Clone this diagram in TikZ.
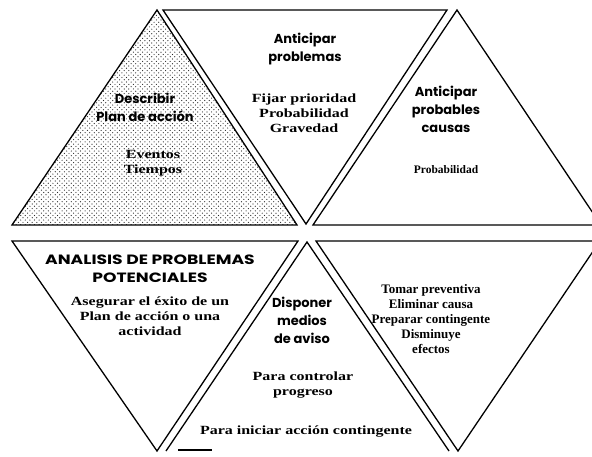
\documentclass[tikz,border=0pt]{standalone}
\usepackage{fontspec}
\setmainfont{Liberation Serif}
\setsansfont{Poppins}
\newfontfamily\bodyfont{Liberation Serif}[FakeStretch=1.28]
\newfontfamily\widehead{Poppins}[FakeStretch=1.27]
\usetikzlibrary{patterns.meta}
\tikzdeclarepattern{
  name=stipple,
  type=uncolored,
  bounding box={(-1pt,-1pt) and (4pt,4pt)},
  tile size={(4.6pt,4.6pt)},
  code={
    \fill (0pt,0pt) circle [radius=0.6pt];
    \fill (2.3pt,2.3pt) circle [radius=0.6pt];
  }
}
\tikzset{
  tri/.style={draw=black, line width=1.3pt, line join=miter},
  shaded/.style={tri, pattern=stipple, pattern color=black!85},
  head/.style={align=center, inner sep=0pt,
    font=\sffamily\bfseries\fontsize{13}{18}\selectfont},
  body/.style={align=center, inner sep=0pt,
    font=\bodyfont\bfseries\fontsize{12.5}{15}\selectfont},
  narrowbody/.style={body, font=\rmfamily\bfseries\fontsize{13}{15}\selectfont}
}

\begin{document}
\begin{tikzpicture}[x=1pt,y=-1pt]
  \useasboundingbox (0,0) rectangle (592,457);
  \clip (0,0) rectangle (592,457);
  % upper row
  \coordinate (a1) at (157,10);  \coordinate (b1) at (12,225);  \coordinate (c1) at (297,225);
  \coordinate (a2) at (163,10);  \coordinate (b2) at (447,10);  \coordinate (c2) at (306,224);
  \coordinate (a3) at (457,10);  \coordinate (b3) at (313,225); \coordinate (c3) at (601,225);
  % lower row
  \coordinate (a4) at (12,241);  \coordinate (b4) at (298,241); \coordinate (c4) at (157,451);
  \coordinate (a5) at (307,242); \coordinate (b5) at (166,451); \coordinate (c5) at (449,451);
  \coordinate (a6) at (316,241); \coordinate (b6) at (600,241); \coordinate (c6) at (458,451);
  \coordinate (f1) at (178,450); \coordinate (f2) at (212,450);

  \draw[shaded] (a1) -- (b1) -- (c1) -- cycle;
  \draw[tri] (a2) -- (b2) -- (c2) -- cycle;
  \draw[tri] (a3) -- (b3) -- (c3) -- cycle;
  \draw[tri] (a4) -- (b4) -- (c4) -- cycle;
  \draw[tri] (b5) -- (a5) -- (c5);
  \draw[tri] (f1) -- (f2);
  \draw[tri] (a6) -- (b6) -- (c6) -- cycle;

  % texts
  \node[head] (describir) at (145,107) {Describir\\Plan de acción};
  \node[body] (eventos) at (153,163) {Eventos\\Tiempos};
  \node[head] (antprob) at (305,49) {Anticipar\\problemas};
  \node[body] (fijar) at (304,113) {Fijar prioridad\\Probabilidad\\Gravedad};
  \node[head] (antcausas) at (446,109) {Anticipar\\probables\\causas};
  \node[narrowbody, font=\rmfamily\bfseries\fontsize{11.5}{15}\selectfont] (probab) at (446,170) {Probabilidad};
  \node[head, font=\widehead\bfseries\fontsize{13.5}{18}\selectfont] (analisis) at (150,269) {ANALISIS DE PROBLEMAS\\POTENCIALES};
  \node[body] (asegurar) at (150,316) {Asegurar el éxito de un\\Plan de acción o una\\actividad};
  \node[head] (disponer) at (302,320) {Disponer\\medios\\de aviso};
  \node[body] (controlar) at (303,385) {Para controlar\\progreso};
  \node[body] (iniciar) at (306,432) {Para iniciar acción contingente};
  \node[narrowbody] (tomar) at (431,319) {Tomar preventiva\\Eliminar causa\\Preparar contingente\\Disminuye\\efectos};
\end{tikzpicture}
\end{document}
